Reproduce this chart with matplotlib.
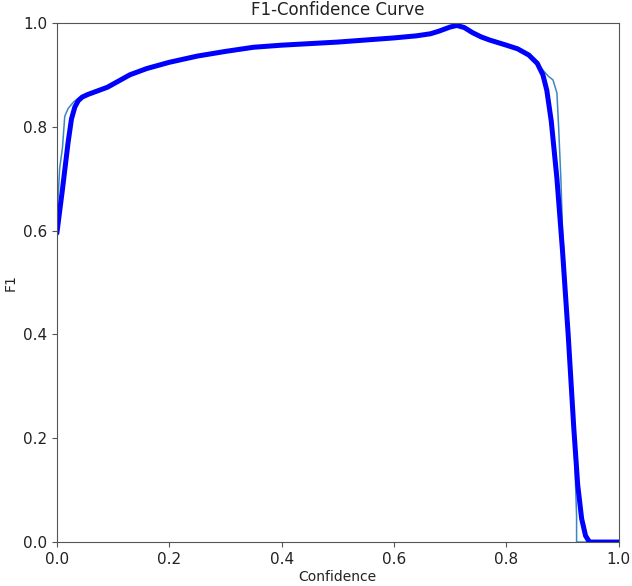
import numpy as np
import matplotlib.pyplot as plt

# 所有类别 (粗线)
conf_all = [0.0, 0.01, 0.02, 0.026, 0.032, 0.038, 0.045, 0.055, 0.07, 0.09, 0.11, 0.13, 0.16, 0.20,
            0.25, 0.30, 0.35, 0.40, 0.45, 0.50, 0.55, 0.60, 0.64, 0.665, 0.68, 0.70, 0.712,
            0.725, 0.74, 0.755, 0.77, 0.80, 0.82, 0.84, 0.855, 0.865, 0.872, 0.88, 0.89, 0.90, 0.91,
            0.92, 0.927, 0.934, 0.941, 0.948, 1.0]
f1_all = [0.595, 0.68, 0.77, 0.815, 0.838, 0.850, 0.857, 0.862, 0.868, 0.876, 0.888, 0.900, 0.912, 0.924,
          0.936, 0.945, 0.953, 0.957, 0.960, 0.963, 0.967, 0.971, 0.975, 0.979, 0.984, 0.992, 0.995,
          0.991, 0.981, 0.973, 0.967, 0.957, 0.950, 0.938, 0.922, 0.900, 0.870, 0.81, 0.70, 0.56, 0.40,
          0.22, 0.11, 0.045, 0.012, 0.0, 0.0]

# 单类别 (细线)
conf_cls = [0.0, 0.0, 0.002, 0.005, 0.01, 0.014, 0.02, 0.03, 0.04, 0.055, 0.07, 0.09,
            0.11, 0.13, 0.16, 0.20, 0.25, 0.30, 0.35, 0.40, 0.45, 0.50, 0.55, 0.60,
            0.65, 0.68, 0.70, 0.715, 0.73, 0.75, 0.77, 0.80, 0.82, 0.84, 0.86, 0.875,
            0.883, 0.89, 0.893, 0.897, 0.90, 0.91, 0.917, 0.922, 0.925, 0.925, 1.0]
f1_cls = [0.44, 0.60, 0.66, 0.72, 0.76, 0.82, 0.835, 0.848, 0.856, 0.862, 0.868, 0.876,
          0.888, 0.900, 0.912, 0.924, 0.936, 0.945, 0.953, 0.957, 0.960, 0.963, 0.967, 0.971,
          0.976, 0.985, 0.993, 0.996, 0.988, 0.975, 0.967, 0.957, 0.950, 0.937, 0.915, 0.897,
          0.89, 0.865, 0.80, 0.70, 0.60, 0.42, 0.28, 0.15, 0.05, 0.0, 0.0]

fig = plt.figure(figsize=(6.32, 5.86), dpi=100)
ax = fig.add_axes([0.090, 0.075, 0.889, 0.886])

ax.plot(conf_cls, f1_cls, linewidth=1.1, color='#3b87c0')
ax.plot(conf_all, f1_all, linewidth=3.6, color='blue',
        solid_joinstyle='round', solid_capstyle='round')

for s in ax.spines.values():
    s.set_color('#555555')
ax.tick_params(colors='#555555', labelcolor='#222222', labelsize=11)

ax.set_xlim(0, 1)
ax.set_ylim(0, 1)
ax.set_xlabel('Confidence', fontsize=10, color='#222222', labelpad=2)
ax.set_ylabel('F1', fontsize=10, color='#222222')
ax.set_title('F1-Confidence Curve', fontsize=12, color='#222222')

fig.savefig('out.png', dpi=100)
